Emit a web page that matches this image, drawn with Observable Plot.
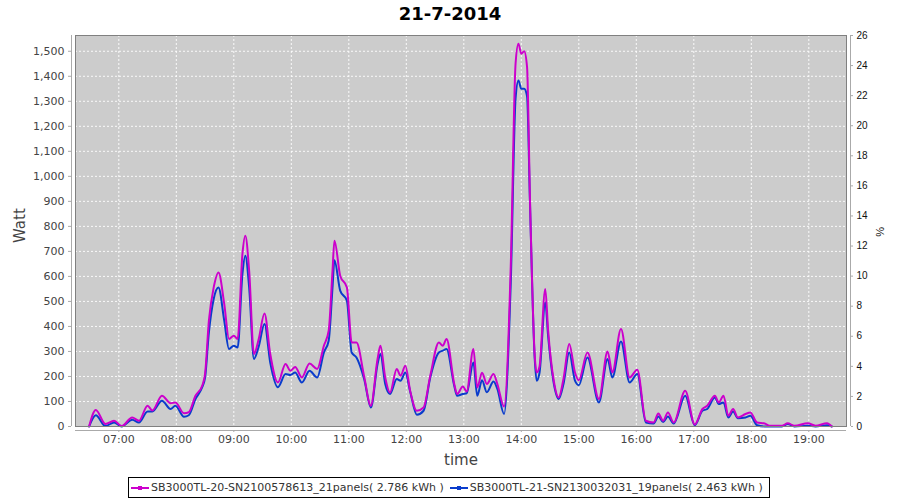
<!DOCTYPE html>
<html>
<head>
<meta charset="utf-8">
<script src="https://cdn.jsdelivr.net/npm/d3@7"></script>
<script src="https://cdn.jsdelivr.net/npm/@observablehq/plot@0.6"></script>
<style>
  html, body { margin: 0; padding: 0; background: #fff; }
  body { position: relative; width: 900px; height: 500px; overflow: hidden; font-family: "DejaVu Sans", sans-serif; }
  #title { position: absolute; top: 0; left: 0; width: 900px; text-align: center; font: bold 18px "DejaVu Sans", sans-serif; line-height: 28px; color: #000; }
  #chart { position: absolute; top: 30px; left: 0; }
  #legend { position: absolute; top: 477px; left: 128px; width: 640px; height: 19px; border: 1px solid #000; box-sizing: content-box;
            display: flex; align-items: center; font: 11px "DejaVu Sans", sans-serif; color: #333; white-space: nowrap; }
  .sw { display: inline-block; width: 18px; height: 2px; margin: 0 2px 0 3px; position: relative; }
</style>
</head>
<body>
<div id="title">21-7-2014</div>
<div id="chart"></div>
<div id="legend"></div>
<script>
// ---- data ----
const times = ["06:29","06:36","06:46","06:55","07:03","07:14","07:21","07:30","07:35","07:45","07:54","07:59",
  "08:08","08:13","08:20","08:27","08:30","08:34","08:39","08:44","08:50","08:55","09:00","09:04","09:09","09:12",
  "09:16","09:21","09:26","09:32","09:38","09:46","09:54","09:59","10:04","10:11","10:19","10:27","10:34","10:39",
  "10:43","10:45","10:51","10:58","11:03","11:08","11:16","11:23","11:30","11:33","11:38","11:43","11:50","11:54",
  "11:59","12:04","12:11","12:18","12:25","12:34","12:38","12:42","12:50","12:53","12:59","13:03","13:10","13:14",
  "13:19","13:24","13:31","13:35","13:42","13:49","13:54","13:57","14:00","14:03","14:06","14:09","14:14","14:16",
  "14:19","14:25","14:28","14:34","14:39","14:44","14:50","14:56","15:00","15:09","15:21","15:30","15:35","15:44",
  "15:53","16:01","16:10","16:18","16:23","16:28","16:33","16:39","16:51","17:01","17:09","17:14","17:22","17:26",
  "17:31","17:36","17:41","17:46","17:54","17:59","18:06","18:14","18:19","18:32","18:38","18:45","18:59","19:07",
  "19:19","19:24"];
const watt20 = [0,66,10,23,2,36,23,83,64,123,93,96,
  53,57,123,163,210,423,556,616,490,350,363,350,690,763,
  623,290,350,452,290,176,250,223,238,196,252,230,323,383,
  623,743,603,556,336,336,200,83,270,323,196,136,230,203,
  243,143,63,76,203,336,323,350,170,130,160,140,310,156,
  215,170,210,170,80,643,1450,1530,1490,1500,1437,916,283,216,
  240,550,383,180,116,190,330,216,185,296,110,300,216,390,
  196,227,23,16,52,23,56,16,143,8,70,83,123,96,
  123,43,70,36,50,56,16,12,3,3,13,3,13,3,
  13,0];
const watt21 = [0,45,2,16,0,27,16,60,60,103,70,83,
  39,45,110,157,195,376,510,556,423,310,323,316,610,683,
  556,270,320,410,256,157,210,206,216,176,223,196,296,343,
  556,665,543,503,296,276,190,76,250,290,170,130,190,183,
  216,140,47,63,196,296,303,310,163,123,130,133,256,123,
  185,137,180,150,50,576,1310,1383,1350,1350,1320,900,270,183,
  215,496,360,170,110,170,296,183,165,276,96,270,196,340,
  176,210,16,12,40,18,40,12,123,5,63,70,116,90,
  96,36,60,33,36,43,5,0,0,0,10,0,3,0,
  5,0];
const seriesNames = ["SB3000TL-20-SN2100578613_21panels( 2.786 kWh )", "SB3000TL-21-SN2130032031_19panels( 2.463 kWh )"];
const seriesColors = ["#cc00cc", "#0a3ccc"];
const percentTicks = [0,2,4,6,8,10,12,14,16,18,20,22,24,26];
const wattTicks = [0,100,200,300,400,500,600,700,800,900,1000,1100,1200,1300,1400,1500];

// ---- build ----
const day = "2014-07-21T";
const toDate = s => new Date(day + s + ":00Z");
const rows21 = times.map((t, i) => ({t: toDate(t), w: watt21[i], s: seriesNames[1]}));
const rows20 = times.map((t, i) => ({t: toDate(t), w: watt20[i], s: seriesNames[0]}));

const xDomain = [new Date(day + "06:14:48Z"), new Date(day + "19:39:20Z")];
const yMax = 1563;
const k = yMax / 26;
const hours = d3.utcHour.every(1).range(xDomain[0], xDomain[1]);
const fmt = d3.utcFormat("%H:%M");
const tickFont = "DejaVu Sans, sans-serif";

const chart = Plot.plot({
  width: 900, height: 445,
  marginLeft: 75, marginRight: 54, marginTop: 5, marginBottom: 49,
  style: {fontFamily: tickFont, background: "transparent", overflow: "visible"},
  x: {type: "utc", domain: xDomain},
  y: {domain: [0, yMax]},
  marks: [
    Plot.frame({fill: "#cccccc", stroke: null}),
    Plot.gridX(hours, {stroke: "#ffffff", strokeOpacity: 0.9, strokeDasharray: "2,2", strokeWidth: 1}),
    Plot.gridY(wattTicks, {stroke: "#ffffff", strokeOpacity: 0.9, strokeDasharray: "2,2", strokeWidth: 1}),
    Plot.line(rows21, {x: "t", y: "w", stroke: seriesColors[1], strokeWidth: 2, curve: "monotone-x"}),
    Plot.line(rows20, {x: "t", y: "w", stroke: seriesColors[0], strokeWidth: 2, curve: "monotone-x"}),
    Plot.frame({stroke: "#808080", strokeWidth: 1}),
    // axis lines (offset from the plot area)
    Plot.ruleX([xDomain[0]], {dx: -4, stroke: "#aaaaaa"}),
    Plot.ruleX([xDomain[1]], {dx: 4, stroke: "#aaaaaa"}),
    Plot.ruleY([0], {dy: 4, stroke: "#aaaaaa"}),
    Plot.axisX(hours, {anchor: "bottom", tickFormat: fmt, dy: 4, tickSize: 2, tickPadding: 3, stroke: "#aaaaaa",
      fill: "#444", fontSize: 11, label: null}),
    Plot.axisY(wattTicks, {anchor: "left", tickFormat: d3.format(","), dx: -4, tickSize: 3, tickPadding: 4, stroke: "#aaaaaa",
      fill: "#444", fontSize: 11, label: null}),
    Plot.axisY(percentTicks.map(p => p * k), {anchor: "right", tickFormat: d => String(Math.round(d / k)), dx: 4, tickSize: 2, tickPadding: 4,
      stroke: "#aaaaaa", fill: "#111", fontSize: 10, fontFamily: "Liberation Sans, Arial, sans-serif", label: null}),
    Plot.text(["Watt"], {frameAnchor: "left", dx: -55, dy: 12, rotate: -90, fontSize: 15, fill: "#444"}),
    Plot.text(["%"], {frameAnchor: "right", dx: 34, dy: -4, rotate: -90, fontSize: 11, fill: "#111", fontFamily: "Liberation Sans, Arial, sans-serif"}),
    Plot.text(["time"], {frameAnchor: "bottom", dy: 38, fontSize: 15, fill: "#444"})
  ]
});
document.getElementById("chart").appendChild(chart);

// legend
const lg = document.getElementById("legend");
seriesNames.forEach((name, i) => {
  const sw = document.createElement("span");
  sw.className = "sw";
  sw.style.background = seriesColors[i];
  sw.style.marginLeft = i === 0 ? "2px" : "6px";
  const dot = document.createElement("span");
  dot.style.cssText = `position:absolute;left:7px;top:-1px;width:4px;height:4px;background:${seriesColors[i]}`;
  sw.appendChild(dot);
  lg.appendChild(sw);
  const tx = document.createElement("span");
  tx.textContent = name;
  lg.appendChild(tx);
});
</script>
</body>
</html>
